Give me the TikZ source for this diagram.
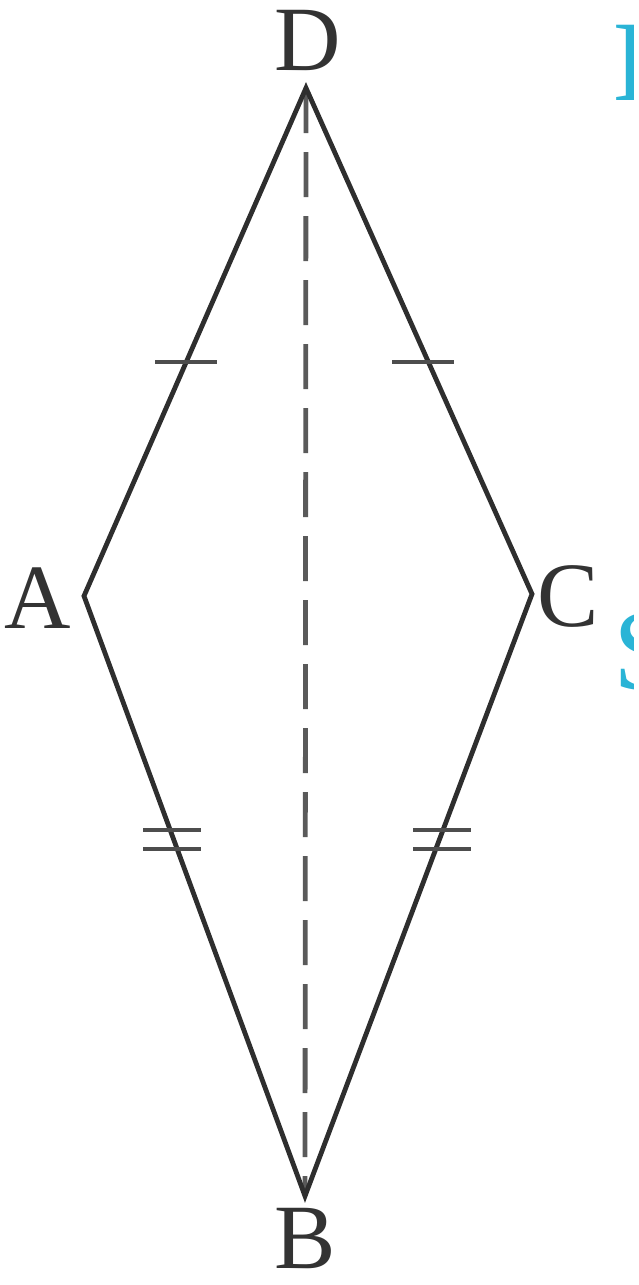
\documentclass[tikz,border=0pt]{standalone}
\usepackage{fontspec}
\setmainfont{Liberation Serif}
\definecolor{edge}{HTML}{2E2E2E}
\definecolor{dashc}{HTML}{5A5A5A}
\definecolor{cyanish}{HTML}{2AB4D6}
\tikzset{
  side/.style={draw=edge, line width=4.8pt, line join=miter},
  diag/.style={draw=dashc, line width=4.8pt, dash pattern=on 45pt off 19pt},
  tick/.style={draw=edge!85, line width=4.8pt},
  vlabel/.style={font=\fontsize{92}{92}\selectfont, text=black!80, inner sep=0pt},
  cutlabel/.style={font=\fontsize{115}{115}\selectfont, text=cyanish, inner sep=0pt, anchor=west}
}
\begin{document}
\begin{tikzpicture}[x=1pt,y=-1pt]
\useasboundingbox (0,0) rectangle (639,1285);
\coordinate (D) at (306,88);
\coordinate (A) at (84,596);
\coordinate (C) at (532,594);
\coordinate (B) at (305,1196);
\draw[diag] (D) -- (B);
\draw[side] (D) -- (A) -- (B) -- (C) -- cycle;
% tick marks
\coordinate (t1) at (186,362);
\coordinate (t2) at (423,362);
\coordinate (t3) at (172,830);
\coordinate (t4) at (172,849);
\coordinate (t5) at (442,830);
\coordinate (t6) at (442,849);
\draw[tick] ([xshift=-31pt]t1) -- ([xshift=31pt]t1);
\draw[tick] ([xshift=-31pt]t2) -- ([xshift=31pt]t2);
\draw[tick] ([xshift=-29pt]t3) -- ([xshift=29pt]t3);
\draw[tick] ([xshift=-29pt]t4) -- ([xshift=29pt]t4);
\draw[tick] ([xshift=-29pt]t5) -- ([xshift=29pt]t5);
\draw[tick] ([xshift=-29pt]t6) -- ([xshift=29pt]t6);
% labels
\node[vlabel] (lD) at (308,40) {D};
\node[vlabel] (lA) at (38,598) {A};
\node[vlabel] (lC) at (568,596) {C};
\node[vlabel] (lB) at (305,1238) {B};
% cut-off text at right edge
\begin{scope}
\clip (0,0) rectangle (633,1285);
\node[cutlabel] (cut1) at (612,63) {I};
\node[cutlabel] (cut2) at (613,652) {S};
\end{scope}
\end{tikzpicture}
\end{document}
